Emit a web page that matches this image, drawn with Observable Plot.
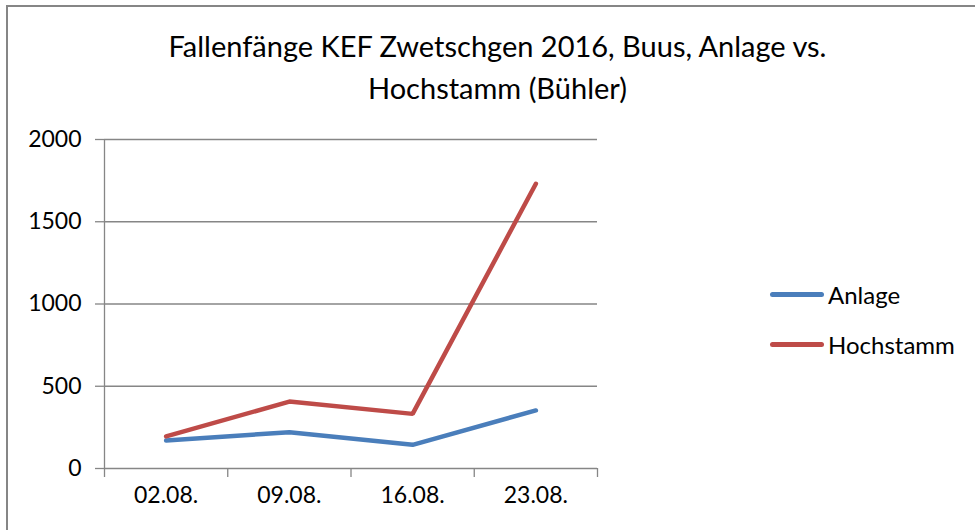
<!DOCTYPE html>
<html>
<head>
<meta charset="utf-8">
<script src="https://cdn.jsdelivr.net/npm/d3@7"></script>
<script src="https://cdn.jsdelivr.net/npm/@observablehq/plot@0.6"></script>
<style>
  html, body { margin: 0; padding: 0; background: #fff; }
  #wrap { position: relative; width: 975px; height: 530px; overflow: hidden; font-family: Lato, "Open Sans", sans-serif; color: #000; }
  #frame { position: absolute; left: 6px; top: 5px; width: 980px; height: 540px; border: 2px solid #868686; box-sizing: border-box; }
  #title { position: absolute; left: 60px; width: 875px; top: 25px; text-align: center; font-size: 29px; line-height: 42px; }
  #chart { position: absolute; left: 0; top: 0; }
  .leg { position: absolute; left: 770px; font-size: 24px; display: flex; align-items: center; }
  .leg span.sw { display: inline-block; width: 54px; height: 5px; border-radius: 3px; margin-right: 4px; }
</style>
</head>
<body>
<div id="wrap">
  <div id="frame"></div>
  <div id="title">Fallenfänge KEF Zwetschgen 2016, Buus, Anlage vs.<br>Hochstamm (Bühler)</div>
  <div id="chart"></div>
  <div class="leg" style="top:280px"><span class="sw" style="background:#4a7ebb"></span>Anlage</div>
  <div class="leg" style="top:330px"><span class="sw" style="background:#be4b48"></span>Hochstamm</div>
</div>
<script>
const dates = ["02.08.", "09.08.", "16.08.", "23.08."];
const anlage = [170, 221, 144, 353];
const hochstamm = [195, 407, 332, 1731];
const seriesNames = ["Anlage", "Hochstamm"];
const seriesColors = ["#4a7ebb", "#be4b48"];
const yTicks = [0, 500, 1000, 1500, 2000];

const rows = [];
dates.forEach((d, i) => {
  rows.push({series: "Anlage", x: i + 0.5, date: d, value: anlage[i]});
  rows.push({series: "Hochstamm", x: i + 0.5, date: d, value: hochstamm[i]});
});

const grid = "#868686";
const chart = Plot.plot({
  width: 975,
  height: 530,
  marginLeft: 104,
  marginRight: 378,
  marginTop: 139,
  marginBottom: 62,
  style: {fontFamily: "Lato, 'Open Sans', sans-serif", fontSize: "23px", color: "#000", background: "transparent"},
  x: {domain: [0, dates.length]},
  y: {domain: [0, 2000]},
  color: {domain: seriesNames, range: seriesColors},
  marks: [
    Plot.gridY(yTicks.slice(1), {stroke: grid, strokeOpacity: 1, strokeWidth: 1.3}),
    Plot.ruleY([0], {stroke: grid, strokeWidth: 1.3}),
    Plot.ruleX([0], {stroke: grid, strokeWidth: 1.3}),
    Plot.axisY({ticks: yTicks, tickSize: 9, tickPadding: 14, tickFormat: d => String(d), stroke: grid, strokeWidth: 1.3, label: null, fill: "#000", fontSize: 23}),
    Plot.axisX({ticks: d3.range(dates.length + 1), tickSize: 9, tickFormat: () => "", stroke: grid, strokeWidth: 1.3, label: null}),
    Plot.axisX({ticks: dates.map((d, i) => i + 0.5), tickSize: 0, tickPadding: 18, tickFormat: v => dates[Math.floor(v)], label: null, fill: "#000", fontSize: 23}),
    Plot.line(rows, {x: "x", y: "value", z: "series", stroke: "series", strokeWidth: 4.5, strokeLinecap: "round", strokeLinejoin: "miter"})
  ]
});
document.getElementById("chart").appendChild(chart);
</script>
</body>
</html>
